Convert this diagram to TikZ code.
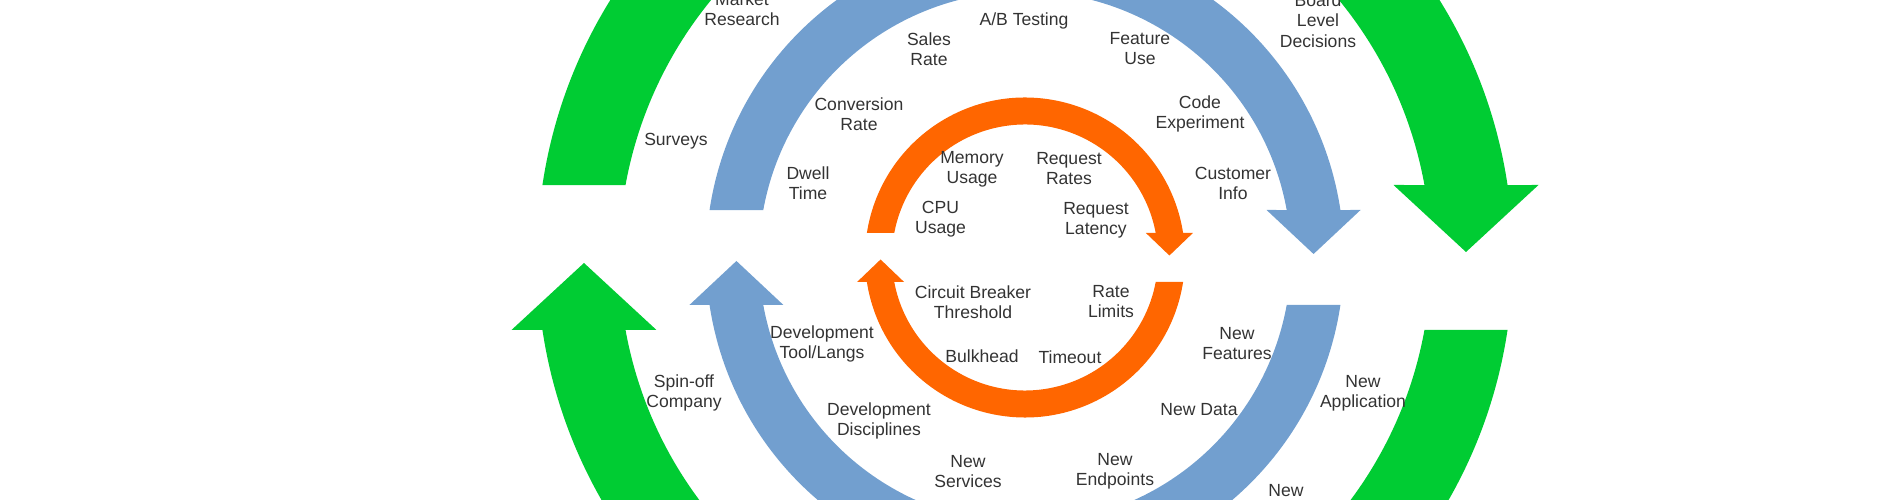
\documentclass[tikz,border=0pt]{standalone}
\usepackage{fontspec}
\setmainfont{Liberation Sans}
\usetikzlibrary{positioning}
\definecolor{loopgreen}{RGB}{0,204,51}
\definecolor{loopblue}{RGB}{114,159,207}
\definecolor{looporange}{RGB}{255,102,0}
\definecolor{labelgray}{RGB}{51,51,51}

% half of a loop: inner r, outer r, end height, head half width, tip height, options
\newcommand{\halfloop}[6]{%
  \pgfmathsetmacro{\loopao}{asin(#3/#2)}%
  \pgfmathsetmacro{\loopai}{asin(#3/#1)}%
  \pgfmathsetmacro{\loophc}{(#2*cos(\loopao)+#1*cos(\loopai))/2}%
  \fill[#6] (180-\loopao:#2) arc[start angle=180-\loopao, end angle=\loopao, radius=#2]
    -- (\loophc+#4,#3) -- (\loophc,#5) -- (\loophc-#4,#3)
    -- (\loopai:#1) arc[start angle=\loopai, end angle=180-\loopai, radius=#1] -- cycle;
}

\begin{document}
\begin{tikzpicture}[x=0.02cm, y=0.02cm,
lbl/.style ={align=center, text=labelgray, font=\fontsize{10}{11.4}\selectfont, inner sep=1pt}]

\useasboundingbox (-1025,-242.5) rectangle (873,257.5);
\clip (-1025,-242.5) rectangle (873,257.5);

% outer loop
\halfloop{406}{488}{72.5}{72.5}{5.5}{loopgreen}
\halfloop{406}{488}{72.5}{72.5}{5.5}{loopgreen,rotate=180}
% middle loop
\halfloop{266}{319}{47.5}{47}{3.5}{loopblue}
\halfloop{266}{319}{47.5}{47}{3.5}{loopblue,rotate=180}
% inner loop
\halfloop{133}{160}{24.5}{23.5}{2}{looporange}
\halfloop{133}{160}{24.5}{23.5}{2}{looporange,rotate=180}

\node[lbl] (market) at (-283,248.5) {Market\\Research};
\node[lbl] (surveys) at (-349,116.5) {Surveys};
\node[lbl] (sales) at (-96,208.5) {Sales\\Rate};
\node[lbl] (abtest) at (-1,236.5) {A/B Testing};
\node[lbl] (feature) at (115,208.5) {Feature\\Use};
\node[lbl] (board) at (293,236.8) {Board\\Level\\Decisions};
\node[lbl] (conversion) at (-166,143.5) {Conversion\\Rate};
\node[lbl] (code) at (175,143.5) {Code\\Experiment};
\node[lbl] (dwell) at (-217,74.5) {Dwell\\Time};
\node[lbl] (customer) at (208,74.5) {Customer\\Info};
\node[lbl] (memory) at (-53,88.5) {Memory\\Usage};
\node[lbl] (reqrates) at (44,88.5) {Request\\Rates};
\node[lbl] (cpu) at (-84.5,38.5) {CPU\\Usage};
\node[lbl] (latency) at (71,37.5) {Request\\Latency};
\node[lbl] (breaker) at (-52,-44.5) {Circuit Breaker\\Threshold};
\node[lbl] (ratelim) at (86,-44.5) {Rate\\Limits};
\node[lbl] (bulkhead) at (-43,-98.5) {Bulkhead};
\node[lbl] (timeout) at (45,-99.5) {Timeout};
\node[lbl] (devtool) at (-203,-86.5) {Development\\Tool/Langs};
\node[lbl] (newfeat) at (212,-86.5) {New\\Features};
\node[lbl] (spinoff) at (-341,-135.5) {Spin-off\\Company};
\node[lbl] (newapp) at (338,-135.5) {New\\Application};
\node[lbl] (devdisc) at (-146,-163.5) {Development\\Disciplines};
\node[lbl] (newdata) at (174,-152.5) {New Data};
\node[lbl] (newserv) at (-57,-214.5) {New\\Services};
\node[lbl] (newend) at (90,-213.5) {New\\Endpoints};
\node[lbl] (newbiz) at (261,-233.5) {New};
\end{tikzpicture}
\end{document}
